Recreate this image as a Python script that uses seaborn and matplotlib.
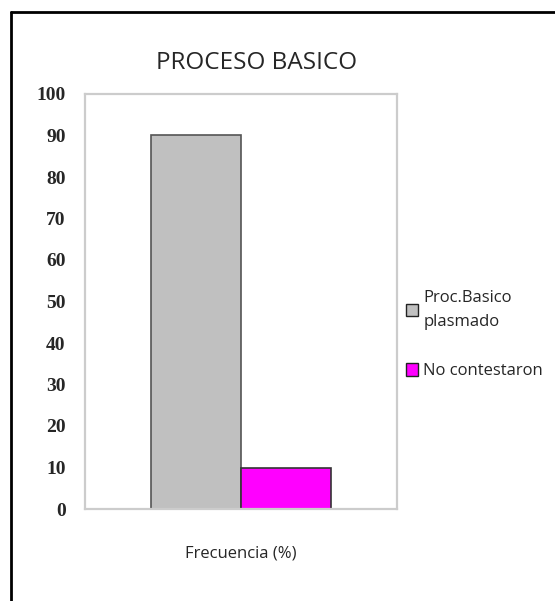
import matplotlib
matplotlib.use("Agg")
import matplotlib.pyplot as plt
import seaborn as sns
import pandas as pd
from matplotlib.lines import Line2D

# chart data
group = ["Frecuencia (%)"]
series = ["Proc.Basico\nplasmado", "No contestaron"]
values = [90, 10]
colors = ["#c0c0c0", "#ff00ff"]
yticks = [0, 10, 20, 30, 40, 50, 60, 70, 80, 90, 100]

sns.set_theme(style="white")
plt.rcParams["font.family"] = ["Open Sans", "DejaVu Sans"]

df = pd.DataFrame({"grupo": group * len(series), "serie": series, "valor": values})

fig = plt.figure(figsize=(5.55, 6.01), dpi=100)
ax = fig.add_axes([85 / 555, 1 - 509 / 601, 312 / 555, 415 / 601])

sns.barplot(data=df, x="grupo", y="valor", hue="serie", palette=colors,
            width=0.577, saturation=1, ax=ax, legend=True)

edge_cols = ["#555555", "#333333"]
for patch, ec in zip(ax.patches, edge_cols):
    patch.set_edgecolor(ec)
    patch.set_linewidth(1.2)

ax.set_ylim(0, 100)
ax.set_xlim(-0.5, 0.5)
ax.set_yticks(yticks)
ax.set_yticklabels([str(t) for t in yticks], family="Liberation Serif",
                   fontweight="bold", fontsize=14)
ax.tick_params(axis="y", length=0, pad=14)
ax.tick_params(axis="x", length=0, pad=26, labelsize=12)
ax.set_xlabel("")
ax.set_ylabel("")
for sp in ax.spines.values():
    sp.set_color("#cccccc")
    sp.set_linewidth(1.6)

fig.text(257 / 555, 1 - 63 / 601, "PROCESO BASICO", ha="center", va="center",
         fontsize=17.5)

handles, labels = ax.get_legend_handles_labels()
ax.legend_.remove()
for h in handles:
    h.set_edgecolor("#222222")
    h.set_linewidth(1.0)
leg = fig.legend(handles, labels, loc="upper left", bbox_to_anchor=(399 / 555, 1 - 283 / 601),
                 frameon=False, fontsize=12, handlelength=0.75, handleheight=0.75,
                 handletextpad=0.3, labelspacing=2.0, borderaxespad=0)
for t in leg.get_texts():
    t.set_linespacing(1.7)

# outer frame (top and left edges visible)
fig.add_artist(Line2D([11 / 555, 11 / 555], [0, 1 - 12 / 601], color="black", lw=2,
                      transform=fig.transFigure))
fig.add_artist(Line2D([11 / 555, 1], [1 - 12 / 601, 1 - 12 / 601], color="black", lw=2,
                      transform=fig.transFigure))

fig.savefig("out.png", dpi=100)
